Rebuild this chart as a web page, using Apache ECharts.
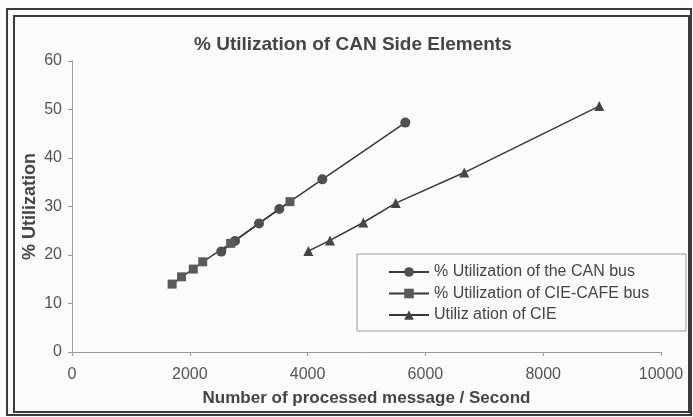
<!DOCTYPE html>
<html>
<head>
<meta charset="utf-8">
<script src="https://cdn.jsdelivr.net/npm/echarts@6/dist/echarts.min.js"></script>
<style>
  html, body { margin: 0; padding: 0; background: #fbfbfa; }
  #chart { width: 693px; height: 417px; }
</style>
</head>
<body>
<div id="chart"></div>
<script>
// values
var canBusX = [2535, 2767, 3175, 3520, 4250, 5659];
var canBusY = [20.7, 22.9, 26.5, 29.5, 35.6, 47.3];
var cafeBusX = [1700, 1860, 2059, 2219, 2694, 3701];
var cafeBusY = [14.0, 15.5, 17.1, 18.6, 22.4, 31.0];
var cieX = [4012, 4380, 4946, 5496, 6660, 8952];
var cieY = [20.8, 23.0, 26.7, 30.7, 37.0, 50.7];
var seriesNames = [
  "% Utilization of the CAN bus",
  "% Utilization of CIE-CAFE bus",
  "Utiliz ation of CIE"
];

function pairs(xs, ys) {
  return xs.map(function (x, i) { return [x, ys[i]]; });
}

var ink = "#383838";
var fontNarrow = "'Liberation Sans Narrow', 'Liberation Sans', Arial, sans-serif";
var fontBold = "'Liberation Sans', Arial, sans-serif";

var myChart = echarts.init(document.getElementById("chart"));
var option = {
  backgroundColor: "#fbfbfa",
  animation: false,
  title: {
    text: "% Utilization of CAN Side Elements",
    left: 189,
    top: 30,
    textStyle: { fontFamily: fontBold, fontSize: 19, fontWeight: "bold", color: "#454545" }
  },
  grid: { left: 72, right: 32, top: 61, bottom: 65 },
  xAxis: {
    type: "value",
    min: 0,
    max: 10000,
    interval: 2000,
    name: "Number of processed message / Second",
    nameLocation: "middle",
    nameGap: 38,
    nameTextStyle: { fontFamily: fontBold, fontSize: 17, fontWeight: "bold", color: "#454545" },
    axisLine: { lineStyle: { color: "#9a9a9a", width: 1 } },
    axisTick: { show: true, length: 4, lineStyle: { color: "#9a9a9a" } },
    axisLabel: {
      fontFamily: fontNarrow, fontSize: 16, color: "#555", margin: 15,
      formatter: function (v) { return String(v); }
    },
    splitLine: { show: false }
  },
  yAxis: {
    type: "value",
    min: 0,
    max: 60,
    interval: 10,
    name: "% Utilization",
    nameLocation: "middle",
    nameGap: 33,
    nameMoveOverlap: false,
    nameRotate: 90,
    nameTextStyle: { fontFamily: fontBold, fontSize: 18, fontWeight: "bold", color: "#454545" },
    axisLine: { show: true, lineStyle: { color: "#9a9a9a", width: 1 } },
    axisTick: { show: true, length: 4, lineStyle: { color: "#9a9a9a" } },
    axisLabel: { fontFamily: fontNarrow, fontSize: 16, color: "#555", margin: 10 },
    splitLine: { show: false }
  },
  legend: {
    orient: "vertical",
    left: 388,
    top: 264,
    itemWidth: 40,
    itemHeight: 12,
    itemGap: 5.5,
    padding: 0,
    textStyle: { fontFamily: fontNarrow, fontSize: 16, color: "#454545" },
    data: seriesNames
  },
  graphic: [
    { type: "rect", shape: { x: 7, y: 9, width: 684, height: 406 },
      style: { fill: null, stroke: "#3a3a3a", lineWidth: 2 } },
    { type: "rect", shape: { x: 14, y: 16, width: 675, height: 396 },
      style: { fill: null, stroke: "#3a3a3a", lineWidth: 2 } },
    { type: "rect", shape: { x: 357, y: 254, width: 329, height: 77 },
      style: { fill: "#fbfbfa", stroke: "#9a9a9a", lineWidth: 1 }, z: 0 }
  ],
  series: [
    {
      name: seriesNames[0],
      type: "line",
      data: pairs(canBusX, canBusY),
      symbol: "circle",
      symbolSize: 10,
      itemStyle: { color: "#505050" },
      lineStyle: { color: ink, width: 1.5 },
      z: 3
    },
    {
      name: seriesNames[1],
      type: "line",
      data: pairs(cafeBusX, cafeBusY),
      symbol: "rect",
      symbolSize: 9,
      itemStyle: { color: "#5a5a5a" },
      lineStyle: { color: ink, width: 1.5 },
      z: 3
    },
    {
      name: seriesNames[2],
      type: "line",
      data: pairs(cieX, cieY),
      symbol: "triangle",
      symbolSize: 10,
      itemStyle: { color: "#454545" },
      lineStyle: { color: ink, width: 1.5 },
      z: 3
    }
  ]
};
option && myChart.setOption(option);
</script>
</body>
</html>
